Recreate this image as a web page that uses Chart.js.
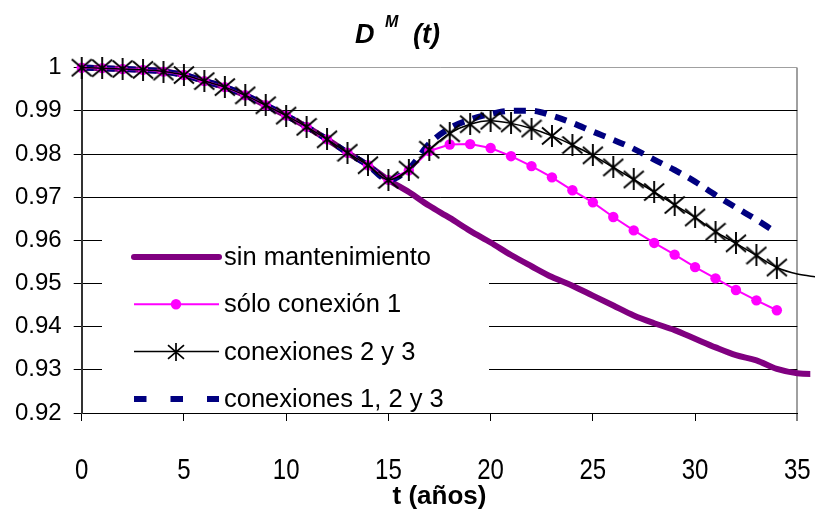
<!DOCTYPE html>
<html lang="es">
<head>
  <meta charset="UTF-8">
  <title>D^M (t)</title>
  <script src="https://cdn.jsdelivr.net/npm/chart.js"></script>
  <style>
    html, body { margin: 0; padding: 0; background: #fff; }
    #wrap { width: 815px; height: 514px; }
  </style>
</head>
<body>
  <div id="wrap"><canvas id="dmChart" width="815" height="514"></canvas></div>

  <script>
    // eje x: años con marcador; la cola 35-36 solo la tienen las curvas continuas
    const years = [0, 1, 2, 3, 4, 5, 6, 7, 8, 9, 10, 11, 12, 13, 14, 15, 16, 17,
                   18, 19, 20, 21, 22, 23, 24, 25, 26, 27, 28, 29, 30, 31, 32, 33, 34];
    const tailYears = [35, 36];

    const xTicks = [0, 5, 10, 15, 20, 25, 30, 35];
    const yTicks = [0.92, 0.93, 0.94, 0.95, 0.96, 0.97, 0.98, 0.99, 1];

    const sinMantenimiento = [1.0000, 0.9999, 0.9997, 0.9995, 0.9991, 0.9983, 0.9969, 0.9955, 0.9936,
      0.9913, 0.9889, 0.9863, 0.9834, 0.9803, 0.9774, 0.9740, 0.9712, 0.9680, 0.9652, 0.9622,
      0.9595, 0.9566, 0.9540, 0.9515, 0.9495, 0.9472, 0.9449, 0.9426, 0.9408, 0.9392, 0.9372,
      0.9352, 0.9334, 0.9322, 0.9302];
    const sinMantenimientoTail = [0.9292, 0.9290];

    const soloConexion1 = [1.0000, 0.9999, 0.9997, 0.9995, 0.9991, 0.9983, 0.9969, 0.9955, 0.9936,
      0.9913, 0.9889, 0.9863, 0.9834, 0.9803, 0.9774, 0.9740, 0.9762, 0.9807, 0.9822, 0.9823,
      0.9814, 0.9795, 0.9772, 0.9746, 0.9716, 0.9688, 0.9654, 0.9623, 0.9594, 0.9567, 0.9538,
      0.9512, 0.9485, 0.9461, 0.9438];

    const conexiones23 = [1.0000, 0.9999, 0.9997, 0.9995, 0.9991, 0.9983, 0.9969, 0.9955, 0.9936,
      0.9913, 0.9889, 0.9863, 0.9834, 0.9803, 0.9774, 0.9740, 0.9764, 0.9810, 0.9848, 0.9869,
      0.9877, 0.9871, 0.9859, 0.9842, 0.9821, 0.9797, 0.9769, 0.9741, 0.9712, 0.9682, 0.9653,
      0.9620, 0.9593, 0.9565, 0.9537];
    const conexiones23Tail = [0.9522, 0.9515];

    const conexiones123 = [1.0000, 0.9999, 0.9997, 0.9995, 0.9991, 0.9983, 0.9969, 0.9955, 0.9936,
      0.9913, 0.9889, 0.9863, 0.9834, 0.9803, 0.9774, 0.9740, 0.9766, 0.9824, 0.9860, 0.9880,
      0.9893, 0.9900, 0.9900, 0.9889, 0.9872, 0.9852, 0.9833, 0.9812, 0.9787, 0.9763, 0.9736,
      0.9705, 0.9676, 0.9648, 0.9617];

    const FONT = '"Liberation Sans", Arial, sans-serif';

    function toPoints(xs, ys) {
      return xs.map((x, i) => ({ x: x, y: ys[i] }));
    }

    // asterisco tipo Excel: aspa + trazo vertical
    function starMarker(size, lw) {
      const c = document.createElement('canvas');
      c.width = size; c.height = size;
      const g = c.getContext('2d');
      const m = size / 2, r = size / 2 - 1;
      g.strokeStyle = '#000';
      g.lineWidth = lw;
      g.beginPath();
      g.moveTo(m - r, m - r * 0.85); g.lineTo(m + r, m + r * 0.85);
      g.moveTo(m + r, m - r * 0.85); g.lineTo(m - r, m + r * 0.85);
      g.moveTo(m, 0); g.lineTo(m, size);
      g.stroke();
      return c;
    }
    const star = starMarker(22, 1.9);
    const starSmall = starMarker(18, 1.7);

    // recuadro de la leyenda dentro del área de trazado
    const legendBox = { left: 102, top: 236, right: 489, bottom: 411 };

    const boxedLegend = {
      id: 'boxedLegend',
      beforeDatasetsDraw(chart) {
        const ctx = chart.ctx;
        ctx.save();
        ctx.fillStyle = '#fff';
        ctx.fillRect(legendBox.left, legendBox.top,
          legendBox.right - legendBox.left, legendBox.bottom - legendBox.top);
        ctx.restore();
      },
      afterDatasetsDraw(chart) {
        const ctx = chart.ctx;
        const x0 = 134, x1 = 219, xm = 176;
        ctx.save();
        chart.data.datasets.forEach((ds, i) => {
          const y = 257 + i * 47.3;
          ctx.strokeStyle = ds.borderColor;
          ctx.lineWidth = ds.borderWidth;
          ctx.lineCap = ds.legendCap || 'butt';
          ctx.setLineDash(ds.legendDash || []);
          ctx.beginPath();
          ctx.moveTo(x0, y);
          ctx.lineTo(x1, y);
          ctx.stroke();
          ctx.setLineDash([]);
          if (ds.legendMarker === 'circle') {
            ctx.fillStyle = ds.pointBackgroundColor;
            ctx.beginPath();
            ctx.arc(xm, y, 5.2, 0, Math.PI * 2);
            ctx.fill();
          } else if (ds.legendMarker === 'star') {
            ctx.drawImage(starSmall, xm - 9, Math.round(y) - 9);
          }
          ctx.fillStyle = '#000';
          ctx.font = '25.5px ' + FONT;
          ctx.textBaseline = 'middle';
          ctx.textAlign = 'left';
          ctx.fillText(ds.label, 224, y + 1);
        });
        ctx.restore();
      }
    };

    // etiquetas del eje x, en letra estrecha
    const narrowXLabels = {
      id: 'narrowXLabels',
      afterDraw(chart) {
        const sc = chart.scales.x, ctx = chart.ctx;
        ctx.save();
        ctx.fillStyle = '#000';
        ctx.font = '30px ' + FONT;
        ctx.textAlign = 'center';
        ctx.textBaseline = 'middle';
        xTicks.forEach(v => {
          ctx.save();
          ctx.translate(sc.getPixelForValue(v), 471);
          ctx.scale(0.8, 1);
          ctx.fillText(String(v), 0, 0);
          ctx.restore();
        });
        ctx.restore();
      }
    };

    // título D^M (t)
    const dmTitle = {
      id: 'dmTitle',
      afterDraw(chart) {
        const ctx = chart.ctx;
        ctx.save();
        ctx.fillStyle = '#000';
        ctx.textBaseline = 'alphabetic';
        ctx.font = 'italic bold 27px ' + FONT;
        ctx.fillText('D', 355, 43);
        ctx.font = 'italic bold 16px ' + FONT;
        ctx.fillText('M', 385, 27);
        ctx.font = 'italic bold 27px ' + FONT;
        ctx.fillText('(t)', 413, 43);
        ctx.restore();
      }
    };

    new Chart(document.getElementById('dmChart'), {
      type: 'line',
      data: {
        datasets: [
          {
            label: 'sin mantenimiento',
            data: toPoints(years.concat(tailYears), sinMantenimiento.concat(sinMantenimientoTail)),
            borderColor: '#800080',
            borderWidth: 6,
            borderCapStyle: 'round',
            borderJoinStyle: 'round',
            pointRadius: 0,
            cubicInterpolationMode: 'monotone',
            clip: { left: 15, top: 15, right: 13, bottom: 15 },
            legendCap: 'round',
            order: 3
          },
          {
            label: 'sólo conexión 1',
            data: toPoints(years, soloConexion1),
            borderColor: '#ff00ff',
            borderWidth: 2,
            pointStyle: 'circle',
            pointRadius: 5.2,
            pointBorderWidth: 0,
            pointBackgroundColor: '#ff00ff',
            tension: 0,
            clip: false,
            legendMarker: 'circle',
            order: 1
          },
          {
            label: 'conexiones 2 y 3',
            data: toPoints(years.concat(tailYears), conexiones23.concat(conexiones23Tail)),
            borderColor: '#000000',
            borderWidth: 1.5,
            pointStyle: star,
            pointRadius: c => (c.dataIndex < years.length ? 10 : 0),
            cubicInterpolationMode: 'monotone',
            clip: false,
            legendMarker: 'star',
            order: 0
          },
          {
            label: 'conexiones 1, 2 y 3',
            data: toPoints(years, conexiones123),
            borderColor: '#000080',
            borderWidth: 6,
            borderDash: [12, 9],
            pointRadius: 0,
            cubicInterpolationMode: 'monotone',
            clip: false,
            legendDash: [12.5, 24],
            order: 2
          }
        ]
      },
      options: {
        responsive: false,
        animation: false,
        devicePixelRatio: 1,
        layout: { padding: { top: 67.7, right: 17.7, left: 0, bottom: 0 } },
        plugins: {
          legend: { display: false },
          title: { display: false },
          tooltip: { enabled: false }
        },
        scales: {
          x: {
            type: 'linear',
            // límites fijados aquí para que las colas más allá de 35 se sigan dibujando
            afterDataLimits: s => { s.min = 0; s.max = 35; },
            afterBuildTicks: s => { s.ticks = xTicks.map(v => ({ value: v })); },
            afterFit: s => { s.height = 101; },
            grid: {
              color: c => (c.tick && c.tick.value === 35 ? '#a0a0a0' : 'rgba(0,0,0,0)'),
              lineWidth: c => (c.tick && c.tick.value === 35 ? 2 : 1),
              tickLength: 8,
              tickColor: '#000',
              tickWidth: 1
            },
            border: { color: '#000', width: 1 },
            ticks: { display: false },
            title: {
              display: true,
              text: 't (años)',
              color: '#000',
              font: { family: FONT, size: 26, weight: 'bold', lineHeight: 1.2 },
              padding: { top: 0, bottom: 2 }
            }
          },
          y: {
            min: 0.92,
            max: 1,
            afterBuildTicks: s => { s.ticks = yTicks.map(v => ({ value: v })); },
            afterFit: s => { s.width = 81.7; },
            grid: {
              color: c => (c.tick && c.tick.value === 1 ? '#a0a0a0' : '#000'),
              lineWidth: 1,
              tickLength: 8,
              tickColor: '#000'
            },
            border: { color: '#333', width: 2 },
            ticks: {
              color: '#000',
              padding: 12,
              font: { family: FONT, size: 24 },
              callback: v => String(+Number(v).toFixed(2))
            }
          }
        }
      },
      plugins: [boxedLegend, narrowXLabels, dmTitle]
    });
  </script>
</body>
</html>
